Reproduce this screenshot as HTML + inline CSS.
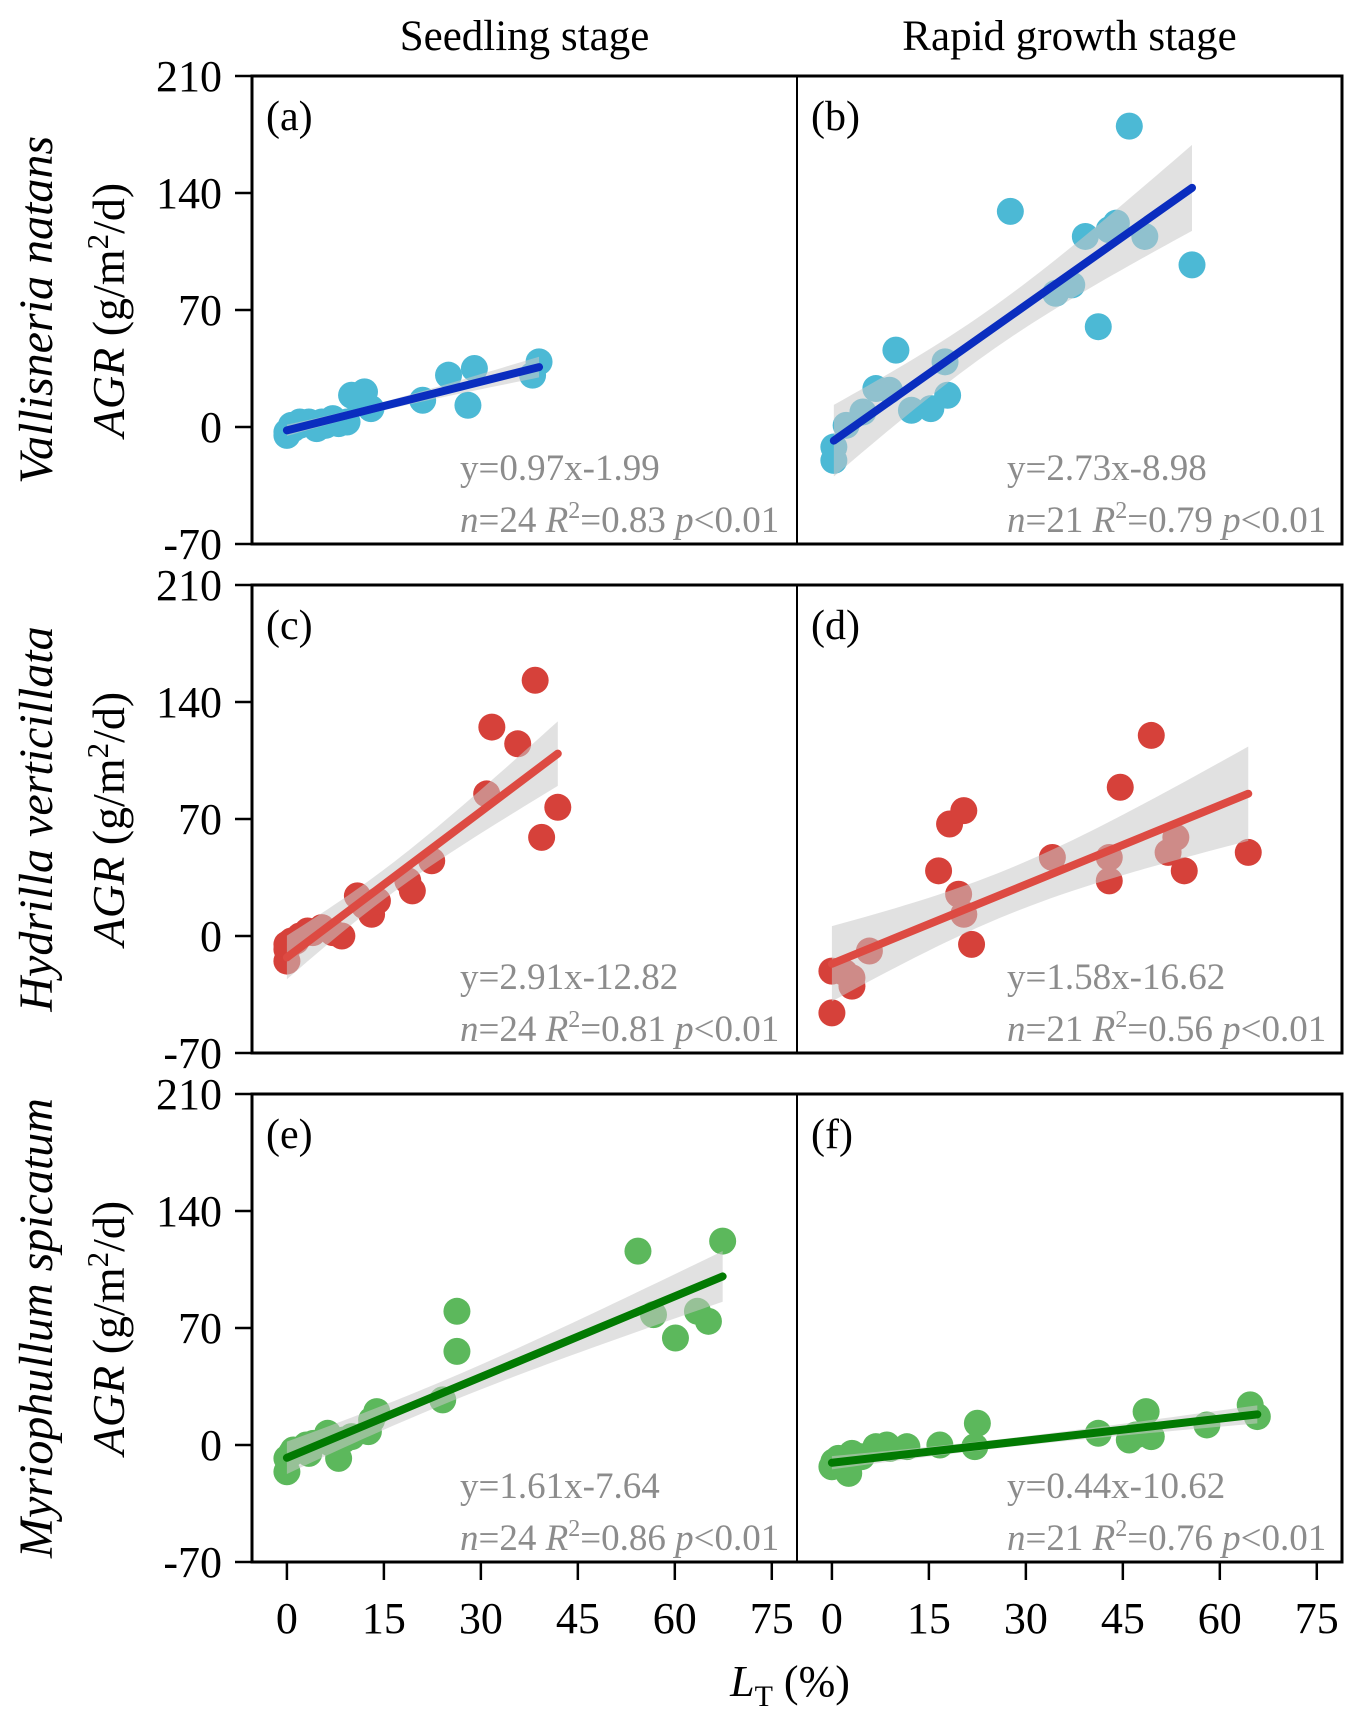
<!DOCTYPE html>
<html><head><meta charset="utf-8"><style>
html,body{margin:0;padding:0;background:#fff;}
svg{display:block;font-family:"Liberation Serif",serif;}
</style></head><body>
<svg id="chart" width="1357" height="1730" viewBox="0 0 1357 1730" xmlns="http://www.w3.org/2000/svg"></svg>
<script>
const yTicks=[210,140,70,0,-70];
const xTicks=[0,15,30,45,60,75];
const colTitles=["Seedling stage","Rapid growth stage"];
const speciesNames=["Vallisneria natans","Hydrilla verticillata","Myriophullum spicatum"];
const panelLabels=["(a)","(b)","(c)","(d)","(e)","(f)"];
const slopes=[0.97,2.73,2.91,1.58,1.61,0.44];
const intercepts=[-1.99,-8.98,-12.82,-16.62,-7.64,-10.62];
const eqTexts=["y=0.97x-1.99","y=2.73x-8.98","y=2.91x-12.82","y=1.58x-16.62","y=1.61x-7.64","y=0.44x-10.62"];
const nVals=["24","21","24","21","24","21"];
const r2Vals=["0.83","0.79","0.81","0.56","0.86","0.76"];
const xA=[0,0.7,2,3.4,4.6,5.4,7.1,9.3,10,12,13,21,25,29,28,39,38,0,1,2,6,11,0.3,8];
const yA=[-3,1,3,3,-1,3,5,3,19,21,11,16,31,35,13,39,31,-5,-1,1,1,16,-2,2];
const xB=[0.3,0.3,2.2,4.8,6.8,8.9,9.9,12.3,15.3,17.5,17.9,27.6,34.6,37.1,39.2,41.2,42.9,46,48.4,55.7,44];
const yB=[-20,-12,1,9,23,22,46,10,11,39,19,129,80,85,114,60,118,180,114,97,122];
const xC=[0,0,0.7,1.4,3.2,5.4,7.1,8.5,10.9,13.1,14,18.7,19.4,22.4,30.9,31.7,35.7,38.4,39.4,41.9,0,2,4,12];
const yC=[-15,-8,-3,-3,3,5,2,0,24,13,21,33,27,45,85,125,115,153,59,77,-5,0,2,18];
const xD=[0,0,3.1,3.1,5.8,16.5,18.2,20.4,19.6,20.4,21.6,34.1,42.9,42.9,44.6,49.4,52,53.2,54.5,64.4,2];
const yD=[-21,-46,-30,-25,-9,39,67,75,25,13,-5,47,33,47,89,120,50,59,39,50,-22];
const xE=[0,0,0.7,3.4,4.1,6.3,6.8,8,8.8,13.1,13.9,12.6,24.1,26.3,26.3,54.3,56.7,60.1,63.5,65.2,67.4,1,3,10];
const yE=[-8,-16,-5,-5,1,7,1,-8,3,15,20,8,27,56,80,116,78,64,80,74,122,-3,0,5];
const xF=[0,0.3,2.6,3.1,4.6,6.8,8.5,11.6,16.7,22.5,22.1,41.2,46,48.6,49.4,58,64.7,65.8,1,9,47];
const yF=[-13,-10,-17,-5,-7,-1,0,-1,0,13,-1,7,3,20,5,12,24,17,-8,-2,6];
const xsAll=[xA,xB,xC,xD,xE,xF];
const ysAll=[yA,yB,yC,yD,yE,yF];

const NS="http://www.w3.org/2000/svg";
const svg=document.getElementById('chart');
function mk(tag,attrs,parent){const e=document.createElementNS(NS,tag);for(const k in attrs)e.setAttribute(k,attrs[k]);(parent||svg).appendChild(e);return e;}
const colX=[[252,797],[797,1342]];
const rowY=[[76,544],[585,1053],[1094,1562]];
const ptCol=["#4cb9d5","#d6413a","#5cb85c"];
const lnCol=["#0a2dbf","#dd4a42","#027a02"];
const xmin=-5.4,xmax=78.9,ymin=-70,ymax=210;
function sx(c,v){return colX[c][0]+(v-xmin)/(xmax-xmin)*(colX[c][1]-colX[c][0]);}
function sy(r,v){return rowY[r][1]-(v-ymin)/(ymax-ymin)*(rowY[r][1]-rowY[r][0]);}

colTitles.forEach((t,c)=>{const e=mk('text',{x:(colX[c][0]+colX[c][1])/2,y:50,'text-anchor':'middle','font-size':43});e.textContent=t;

});

for(let r=0;r<3;r++){
  const cy=(rowY[r][0]+rowY[r][1])/2;
  const t1=mk('text',{x:0,y:0,transform:`translate(52,${cy}) rotate(-90)`,'text-anchor':'middle','font-size':48,'font-style':'italic'});
  t1.textContent=speciesNames[r];
  
  
  const t2=mk('text',{x:0,y:0,transform:`translate(124,${cy}) rotate(-90)`,'text-anchor':'middle','font-size':46});
  t2.innerHTML='<tspan font-style="italic">AGR</tspan> (g/m<tspan dy="-16" font-size="31">2</tspan><tspan dy="16">/d)</tspan>';
  
  
  yTicks.forEach(v=>{
    mk('line',{x1:235,x2:252,y1:sy(r,v),y2:sy(r,v),stroke:'#000','stroke-width':2.5});
    const tl=mk('text',{x:222,y:sy(r,v)+15,'text-anchor':'end','font-size':44});tl.textContent=v;
    
    
  });
  for(let c=0;c<2;c++){
    const i=r*2+c;
    const g=mk('g',{});
    
    
    const xs=xsAll[i],ys=ysAll[i];
    xs.forEach((x,k)=>{const p=mk('circle',{cx:sx(c,x),cy:sy(r,ys[k]),r:13.5,fill:ptCol[r]},g);
      
      });
    const n=xs.length,mx=xs.reduce((a,b)=>a+b,0)/n;
    let sxx=0,sse=0;xs.forEach((x,k)=>{sxx+=(x-mx)**2;const res=ys[k]-(slopes[i]*x+intercepts[i]);sse+=res*res;});
    const s=Math.sqrt(sse/(n-2)),tv=2.08;
    const x0=Math.min(...xs),x1=Math.max(...xs);
    const up=[],dn=[];
    for(let q=0;q<=40;q++){const x=x0+(x1-x0)*q/40;const f=slopes[i]*x+intercepts[i];const h=tv*s*Math.sqrt(1/n+(x-mx)**2/sxx);
      up.push(`${sx(c,x)},${sy(r,f+h)}`);dn.unshift(`${sx(c,x)},${sy(r,f-h)}`);}
    const band=mk('polygon',{points:up.concat(dn).join(' '),fill:'#c8c8c8','fill-opacity':0.55},g);
    
    
    const ln=mk('line',{x1:sx(c,x0),y1:sy(r,slopes[i]*x0+intercepts[i]),x2:sx(c,x1),y2:sy(r,slopes[i]*x1+intercepts[i]),stroke:lnCol[r],'stroke-width':8,'stroke-linecap':'round'},g);
    
    
    const pl=mk('text',{x:colX[c][0]+14,y:rowY[r][0]+54,'font-size':42},g);pl.textContent=panelLabels[i];
    
    
    const ex=colX[c][0]+(c===0?208:210);
    const e1=mk('text',{x:ex,y:rowY[r][0]+404,'font-size':37,fill:'#8c8c8c'},g);e1.textContent=eqTexts[i];
    
    
    const e2=mk('text',{x:ex,y:rowY[r][0]+456,'font-size':37,fill:'#8c8c8c'},g);
    e2.innerHTML=`<tspan font-style="italic">n</tspan>=${nVals[i]} <tspan font-style="italic">R</tspan><tspan dy="-14" font-size="24">2</tspan><tspan dy="14">=${r2Vals[i]} </tspan><tspan font-style="italic">p</tspan>&lt;0.01`;
    
    
  }
  mk('rect',{x:252,y:rowY[r][0],width:1090,height:rowY[r][1]-rowY[r][0],fill:'none',stroke:'#000','stroke-width':3});
  mk('line',{x1:797,x2:797,y1:rowY[r][0],y2:rowY[r][1],stroke:'#000','stroke-width':2});
}
for(let c=0;c<2;c++){
  xTicks.forEach(v=>{
    mk('line',{x1:sx(c,v),x2:sx(c,v),y1:1562,y2:1580,stroke:'#000','stroke-width':2.5});
    const t=mk('text',{x:sx(c,v),y:1633,'text-anchor':'middle','font-size':44});t.textContent=v;
    
    
  });
}
const xl=mk('text',{x:790,y:1696,'text-anchor':'middle','font-size':44});
xl.innerHTML='<tspan font-style="italic">L</tspan><tspan dy="10" font-size="30">T</tspan><tspan dy="-10"> (%)</tspan>';


</script>
</body></html>
